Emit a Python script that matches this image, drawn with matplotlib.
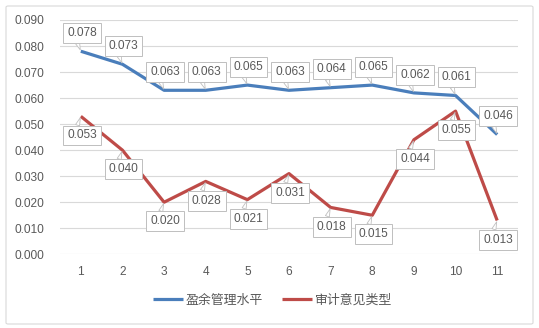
import matplotlib
matplotlib.use("Agg")
import matplotlib.pyplot as plt
from matplotlib.patches import FancyBboxPatch

plt.rcParams['font.family'] = ['Liberation Sans', 'Noto Sans CJK SC', 'DejaVu Sans']

categories = [1, 2, 3, 4, 5, 6, 7, 8, 9, 10, 11]
earnings_mgmt = [0.078, 0.073, 0.063, 0.063, 0.065, 0.063, 0.064, 0.065, 0.062, 0.061, 0.046]
audit_opinion = [0.053, 0.040, 0.020, 0.028, 0.021, 0.031, 0.018, 0.015, 0.044, 0.055, 0.013]
series_names = ['盈余管理水平', '审计意见类型']
y_ticks = [0.000, 0.010, 0.020, 0.030, 0.040, 0.050, 0.060, 0.070, 0.080, 0.090]

W, H = 539, 328
fig = plt.figure(figsize=(W / 100, H / 100), dpi=100)

# outer chart border
border = FancyBboxPatch((6 / W, 4 / H), (533 - 6) / W, (322 - 4) / H,
                        boxstyle="round,pad=0,rounding_size=0.004",
                        transform=fig.transFigure, fc='none', ec='#D9D9D9', lw=0.8,
                        zorder=-1)
fig.patches.append(border)

ax = fig.add_axes([60 / W, 1 - 254.3 / H, (518 - 60) / W, (254.3 - 20) / H])
ax.set_facecolor('none')
blue = '#4A7EBB'
red = '#BE4B48'
txt = '#595959'

l1, = ax.plot(categories, earnings_mgmt, color=blue, lw=2.3, solid_capstyle='butt', zorder=3)
l2, = ax.plot(categories, audit_opinion, color=red, lw=2.3, solid_capstyle='butt', zorder=3)

ax.set_xlim(0.5, 11.5)
ax.set_ylim(0, 0.09)
ax.set_yticks(y_ticks)
ax.set_yticklabels([f'{v:.3f}' for v in y_ticks])
ax.set_xticks(categories)
ax.set_xticklabels([str(c) for c in categories])
ax.grid(axis='y', color='#D9D9D9', lw=0.8)
ax.set_axisbelow(True)
for s in ax.spines.values():
    s.set_visible(False)
ax.tick_params(axis='y', length=0, pad=11, labelsize=8.6, labelcolor=txt)
ax.tick_params(axis='x', length=0, pad=8.5, labelsize=8.6, labelcolor=txt)


def label(x, y, dy, color_edge='#BFBFBF'):
    bbox = dict(boxstyle='square,pad=0.33', fc='white', ec=color_edge, lw=0.7)
    relpos = (0.3, 0.0) if dy > 0 else (0.3, 1.0)
    ax.annotate(f'{y:.3f}', xy=(x, y), xytext=(0.8, dy), textcoords='offset points',
                ha='center', va='center', fontsize=8.6, color=txt, bbox=bbox,
                arrowprops=dict(arrowstyle='wedge,tail_width=0.35,shrink_factor=0.5',
                                fc='white', ec=color_edge, lw=0.6,
                                shrinkA=0, shrinkB=1, relpos=relpos),
                zorder=5)


for x, y in zip(categories, earnings_mgmt):
    label(x, y, 13.2)
for x, y in zip(categories, audit_opinion):
    label(x, y, -13.8)

fig.legend([l1, l2], series_names, loc='center', bbox_to_anchor=(272.5 / W, 1 - 300 / H),
           ncol=2, frameon=False, handlelength=2.3, handletextpad=0.2, columnspacing=1.5,
           prop={'family': ['Noto Sans CJK SC', 'DejaVu Sans'], 'size': 9.3},
           labelcolor=txt)

fig.savefig('out.png', dpi=100)
